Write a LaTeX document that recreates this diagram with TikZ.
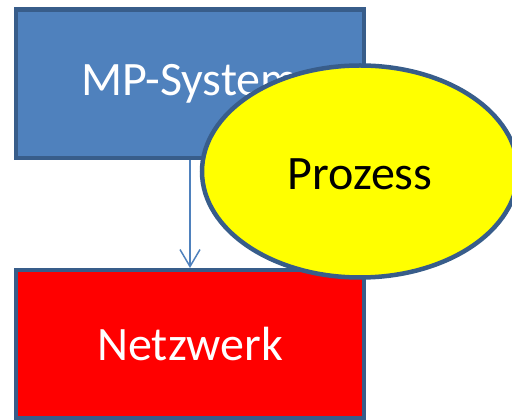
\documentclass[tikz,border=0pt]{standalone}
\usepackage{fontspec}
\setmainfont{Carlito}
\usepackage{tikz}
\usetikzlibrary{arrows.meta, shapes.geometric, positioning}

\definecolor{boxblue}{RGB}{79,129,189}
\definecolor{edgeblue}{RGB}{56,93,138}
\definecolor{boxred}{RGB}{255,0,0}
\definecolor{procyellow}{RGB}{255,255,0}

\begin{document}
\begin{tikzpicture}[x=1pt,y=1pt,on grid,
  box/.style={rectangle, draw=edgeblue, line width=4.5pt, minimum width=348pt,
    minimum height=148.5pt, inner sep=0pt, text=white,
    font=\fontsize{48}{58}\selectfont},
  proc/.style={ellipse, draw=edgeblue, line width=4.5pt, fill=procyellow,
    minimum width=316pt, minimum height=212pt, inner sep=0pt, outer sep=0pt,
    text height=37pt, text depth=0pt,
    font=\fontsize{48}{58}\selectfont}]
\useasboundingbox (0,0) rectangle (512,420);
\node[box, fill=boxblue] (mp) at (190,336) {MP-System};
\node[box, fill=boxred, below=260.5pt of mp] (netz) {Netzwerk};

\path[-{Straight Barb[length=17pt,width=20pt]}, draw=boxblue, line width=1.5pt]
  (mp) edge (netz);

\node[proc] (proz) at (360,248.5) {Prozess};
\end{tikzpicture}
\end{document}
